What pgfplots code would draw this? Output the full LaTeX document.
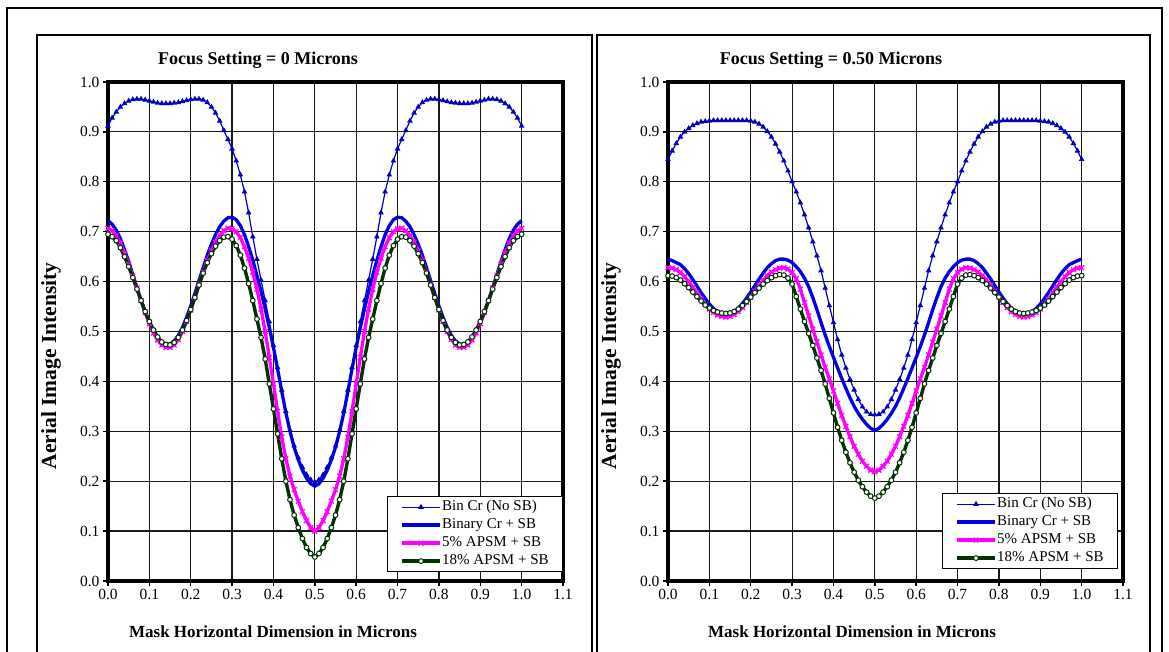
\documentclass[border=0pt]{standalone}
\usepackage{fontspec}
\setmainfont{Liberation Serif}
\usepackage{pgfplots}
\pgfplotsset{compat=1.18}
\usepackage{pgfplotstable}

\definecolor{bincr}{RGB}{0,0,190}
\definecolor{binsb}{RGB}{0,0,228}
\definecolor{apsmfive}{RGB}{255,0,255}
\definecolor{apsmeight}{RGB}{0,51,0}

% Aerial image intensity across the mask, focus = 0 microns
% columns: x, Bin Cr (no SB), Binary Cr + SB, 5% APSM + SB, 18% APSM + SB
\pgfplotstableread{
x A B M G
0.00 0.912 0.722 0.707 0.695
0.01 0.928 0.715 0.702 0.690
0.02 0.940 0.703 0.692 0.682
0.03 0.950 0.686 0.677 0.668
0.04 0.957 0.664 0.657 0.650
0.05 0.962 0.640 0.635 0.630
0.06 0.965 0.614 0.611 0.608
0.07 0.966 0.588 0.587 0.585
0.08 0.966 0.562 0.562 0.562
0.09 0.964 0.538 0.538 0.540
0.10 0.962 0.517 0.516 0.520
0.11 0.960 0.499 0.497 0.503
0.12 0.958 0.486 0.483 0.489
0.13 0.957 0.478 0.473 0.479
0.14 0.957 0.474 0.468 0.474
0.15 0.957 0.475 0.468 0.473
0.16 0.958 0.481 0.473 0.478
0.17 0.959 0.492 0.484 0.488
0.18 0.961 0.508 0.500 0.503
0.19 0.963 0.528 0.520 0.522
0.20 0.965 0.551 0.543 0.544
0.21 0.966 0.576 0.568 0.568
0.22 0.966 0.602 0.594 0.593
0.23 0.964 0.628 0.619 0.617
0.24 0.959 0.653 0.642 0.638
0.25 0.950 0.675 0.662 0.656
0.26 0.938 0.694 0.679 0.671
0.27 0.922 0.710 0.692 0.682
0.28 0.903 0.721 0.702 0.689
0.29 0.885 0.728 0.707 0.690
0.30 0.866 0.729 0.706 0.685
0.31 0.842 0.724 0.700 0.672
0.32 0.814 0.712 0.688 0.653
0.33 0.780 0.694 0.670 0.627
0.34 0.738 0.670 0.647 0.596
0.35 0.690 0.643 0.619 0.562
0.36 0.645 0.612 0.585 0.525
0.37 0.603 0.580 0.545 0.488
0.38 0.562 0.545 0.500 0.445
0.39 0.520 0.508 0.448 0.395
0.40 0.472 0.468 0.395 0.345
0.41 0.428 0.425 0.340 0.295
0.42 0.383 0.380 0.288 0.245
0.43 0.340 0.337 0.245 0.200
0.44 0.302 0.300 0.210 0.163
0.45 0.271 0.268 0.183 0.132
0.46 0.247 0.243 0.160 0.107
0.47 0.228 0.222 0.139 0.085
0.48 0.213 0.206 0.121 0.067
0.49 0.203 0.195 0.107 0.055
0.50 0.198 0.190 0.100 0.048
0.51 0.203 0.195 0.107 0.055
0.52 0.213 0.206 0.121 0.067
0.53 0.228 0.222 0.139 0.085
0.54 0.247 0.243 0.160 0.107
0.55 0.271 0.268 0.183 0.132
0.56 0.302 0.300 0.210 0.163
0.57 0.340 0.337 0.245 0.200
0.58 0.383 0.380 0.288 0.245
0.59 0.428 0.425 0.340 0.295
0.60 0.472 0.468 0.395 0.345
0.61 0.520 0.508 0.448 0.395
0.62 0.562 0.545 0.500 0.445
0.63 0.603 0.580 0.545 0.488
0.64 0.645 0.612 0.585 0.525
0.65 0.690 0.643 0.619 0.562
0.66 0.738 0.670 0.647 0.596
0.67 0.780 0.694 0.670 0.627
0.68 0.814 0.712 0.688 0.653
0.69 0.842 0.724 0.700 0.672
0.70 0.866 0.729 0.706 0.685
0.71 0.885 0.728 0.707 0.690
0.72 0.903 0.721 0.702 0.689
0.73 0.922 0.710 0.692 0.682
0.74 0.938 0.694 0.679 0.671
0.75 0.950 0.675 0.662 0.656
0.76 0.959 0.653 0.642 0.638
0.77 0.964 0.628 0.619 0.617
0.78 0.966 0.602 0.594 0.593
0.79 0.966 0.576 0.568 0.568
0.80 0.965 0.551 0.543 0.544
0.81 0.963 0.528 0.520 0.522
0.82 0.961 0.508 0.500 0.503
0.83 0.959 0.492 0.484 0.488
0.84 0.958 0.481 0.473 0.478
0.85 0.957 0.475 0.468 0.473
0.86 0.957 0.474 0.468 0.474
0.87 0.957 0.478 0.473 0.479
0.88 0.958 0.486 0.483 0.489
0.89 0.960 0.499 0.497 0.503
0.90 0.962 0.517 0.516 0.520
0.91 0.964 0.538 0.538 0.540
0.92 0.966 0.562 0.562 0.562
0.93 0.966 0.588 0.587 0.585
0.94 0.965 0.614 0.611 0.608
0.95 0.962 0.640 0.635 0.630
0.96 0.957 0.664 0.657 0.650
0.97 0.950 0.686 0.677 0.668
0.98 0.940 0.703 0.692 0.682
0.99 0.928 0.715 0.702 0.690
1.00 0.912 0.722 0.707 0.695
}\focuszero

% Same quantities at focus = 0.50 microns
\pgfplotstableread{
x A B M G
0.00 0.845 0.645 0.628 0.612
0.01 0.862 0.642 0.627 0.611
0.02 0.877 0.638 0.624 0.608
0.03 0.890 0.634 0.618 0.603
0.04 0.900 0.626 0.610 0.596
0.05 0.907 0.616 0.600 0.588
0.06 0.913 0.604 0.589 0.579
0.07 0.917 0.591 0.577 0.570
0.08 0.920 0.578 0.565 0.561
0.09 0.921 0.566 0.554 0.553
0.10 0.922 0.555 0.545 0.547
0.11 0.923 0.546 0.538 0.542
0.12 0.923 0.540 0.533 0.539
0.13 0.923 0.536 0.530 0.537
0.14 0.923 0.535 0.529 0.536
0.15 0.923 0.536 0.530 0.537
0.16 0.923 0.540 0.534 0.540
0.17 0.923 0.547 0.540 0.545
0.18 0.923 0.556 0.548 0.552
0.19 0.923 0.567 0.558 0.560
0.20 0.922 0.579 0.569 0.569
0.21 0.920 0.592 0.581 0.578
0.22 0.916 0.605 0.592 0.587
0.23 0.910 0.617 0.603 0.595
0.24 0.901 0.628 0.612 0.602
0.25 0.890 0.636 0.619 0.608
0.26 0.876 0.642 0.624 0.612
0.27 0.860 0.645 0.627 0.614
0.28 0.842 0.645 0.628 0.613
0.29 0.822 0.643 0.625 0.607
0.30 0.800 0.638 0.618 0.595
0.31 0.780 0.630 0.606 0.570
0.32 0.758 0.620 0.585 0.545
0.33 0.734 0.607 0.558 0.520
0.34 0.708 0.590 0.531 0.496
0.35 0.680 0.568 0.505 0.472
0.36 0.652 0.544 0.479 0.447
0.37 0.622 0.518 0.453 0.422
0.38 0.587 0.493 0.428 0.395
0.39 0.552 0.470 0.405 0.366
0.40 0.518 0.448 0.381 0.337
0.41 0.484 0.427 0.356 0.308
0.42 0.453 0.406 0.332 0.282
0.43 0.427 0.386 0.310 0.258
0.44 0.404 0.367 0.289 0.237
0.45 0.383 0.350 0.270 0.218
0.46 0.364 0.336 0.254 0.202
0.47 0.349 0.324 0.240 0.189
0.48 0.339 0.314 0.230 0.178
0.49 0.334 0.306 0.222 0.170
0.50 0.333 0.302 0.219 0.166
0.51 0.334 0.306 0.222 0.170
0.52 0.339 0.314 0.230 0.178
0.53 0.349 0.324 0.240 0.189
0.54 0.364 0.336 0.254 0.202
0.55 0.383 0.350 0.270 0.218
0.56 0.404 0.367 0.289 0.237
0.57 0.427 0.386 0.310 0.258
0.58 0.453 0.406 0.332 0.282
0.59 0.484 0.427 0.356 0.308
0.60 0.518 0.448 0.381 0.337
0.61 0.552 0.470 0.405 0.366
0.62 0.587 0.493 0.428 0.395
0.63 0.622 0.518 0.453 0.422
0.64 0.652 0.544 0.479 0.447
0.65 0.680 0.568 0.505 0.472
0.66 0.708 0.590 0.531 0.496
0.67 0.734 0.607 0.558 0.520
0.68 0.758 0.620 0.585 0.545
0.69 0.780 0.630 0.606 0.570
0.70 0.800 0.638 0.618 0.595
0.71 0.822 0.643 0.625 0.607
0.72 0.842 0.645 0.628 0.613
0.73 0.860 0.645 0.627 0.614
0.74 0.876 0.642 0.624 0.612
0.75 0.890 0.636 0.619 0.608
0.76 0.901 0.628 0.612 0.602
0.77 0.910 0.617 0.603 0.595
0.78 0.916 0.605 0.592 0.587
0.79 0.920 0.592 0.581 0.578
0.80 0.922 0.579 0.569 0.569
0.81 0.923 0.567 0.558 0.560
0.82 0.923 0.556 0.548 0.552
0.83 0.923 0.547 0.540 0.545
0.84 0.923 0.540 0.534 0.540
0.85 0.923 0.536 0.530 0.537
0.86 0.923 0.535 0.529 0.536
0.87 0.923 0.536 0.530 0.537
0.88 0.923 0.540 0.533 0.539
0.89 0.923 0.546 0.538 0.542
0.90 0.922 0.555 0.545 0.547
0.91 0.921 0.566 0.554 0.553
0.92 0.920 0.578 0.565 0.561
0.93 0.917 0.591 0.577 0.570
0.94 0.913 0.604 0.589 0.579
0.95 0.907 0.616 0.600 0.588
0.96 0.900 0.626 0.610 0.596
0.97 0.890 0.634 0.618 0.603
0.98 0.877 0.638 0.624 0.608
0.99 0.862 0.642 0.627 0.611
1.00 0.845 0.645 0.628 0.612
}\focushalf

\pgfplotsset{
  aerial/.style={
    scale only axis, width=455pt, height=499pt,
    xmin=0, xmax=1.1, ymin=0, ymax=1,
    xtick={0,0.1,0.2,0.3,0.4,0.5,0.6,0.7,0.8,0.9,1.0,1.1},
    ytick={0,0.1,0.2,0.3,0.4,0.5,0.6,0.7,0.8,0.9,1.0},
    grid=major, grid style={black!90, line width=1.2pt},
    axis line style={black, line width=3.2pt},
    tick align=outside, tick pos=left, major tick length=5pt,
    every tick/.style={black, line width=1.4pt},
    ticklabel style={font=\fontsize{15.5}{18}\selectfont},
    /pgf/number format/assume math mode=true,
    xticklabel style={/pgf/number format/fixed, /pgf/number format/fixed zerofill, /pgf/number format/precision=1},
    yticklabel style={/pgf/number format/fixed, /pgf/number format/fixed zerofill, /pgf/number format/precision=1},
    legend cell align=left,
    legend style={draw=black, line width=0.8pt, fill=white,
      font=\fontsize{15}{18}\selectfont,
      inner xsep=13pt, inner ysep=1.5pt,
      nodes={inner xsep=0.5pt, inner ysep=2pt, text height=10.5pt, text depth=3.5pt}},
    legend image code/.code={\draw[mark repeat=2,mark phase=2,##1] plot coordinates {(0pt,0pt) (19pt,0pt) (38pt,0pt)};},
  },
  nosb/.style={bincr, line width=1.2pt, mark=triangle*, mark size=2.1pt, mark options={solid, fill=bincr}},
  withsb/.style={binsb, line width=3.3pt, no marks},
  five/.style={apsmfive, line width=3.3pt, mark=x, mark size=3.4pt, mark options={solid, line width=1.3pt}},
  eighteen/.style={apsmeight, line width=3.4pt, mark=*, mark size=2.4pt, mark options={solid, fill=white, draw=apsmeight, line width=1pt}},
}

\begin{document}
\begin{tikzpicture}[x=1pt, y=1pt]
\useasboundingbox (0,0) rectangle (1169,652);
% outer frame and the two chart areas
\draw[black, line width=2pt] (7,-5) -- (7,644) -- (1162,644) -- (1162,-5);
\draw[black, line width=1.1pt] (37,-5) -- (37,617) -- (592,617) -- (592,-5);
\draw[black, line width=1.1pt] (597,-5) -- (597,617) -- (1150,617) -- (1150,-5);

\begin{axis}[aerial, at={(108pt,71pt)}, anchor=south west,
  legend style={at={(0.613,0.018)}, anchor=south west}]
\addplot[nosb] table[x=x, y=A] {\focuszero};
\addlegendentry{Bin Cr (No SB)}
\addplot[withsb] table[x=x, y=B] {\focuszero};
\addlegendentry{Binary Cr + SB}
\addplot[five] table[x=x, y=M] {\focuszero};
\addlegendentry{5\% APSM + SB}
\addplot[eighteen] table[x=x, y=G] {\focuszero};
\addlegendentry{18\% APSM + SB}
\end{axis}

\begin{axis}[aerial, at={(668pt,71pt)}, anchor=south west,
  legend style={at={(0.602,0.024)}, anchor=south west}]
\addplot[nosb] table[x=x, y=A] {\focushalf};
\addlegendentry{Bin Cr (No SB)}
\addplot[withsb] table[x=x, y=B] {\focushalf};
\addlegendentry{Binary Cr + SB}
\addplot[five] table[x=x, y=M] {\focushalf};
\addlegendentry{5\% APSM + SB}
\addplot[eighteen] table[x=x, y=G] {\focushalf};
\addlegendentry{18\% APSM + SB\hspace{17pt}}
\end{axis}

% chart and axis titles
\node[font=\bfseries\fontsize{18}{21}\selectfont] at (258,592) {Focus Setting = 0 Microns};
\node[font=\bfseries\fontsize{18}{21}\selectfont] at (831,592) {Focus Setting = 0.50 Microns};
\node[font=\bfseries\fontsize{17}{20}\selectfont] at (273,20) {Mask Horizontal Dimension in Microns};
\node[font=\bfseries\fontsize{17}{20}\selectfont] at (852,20) {Mask Horizontal Dimension in Microns};
\node[font=\bfseries\fontsize{21.5}{25}\selectfont, rotate=90] at (51,286) {Aerial Image Intensity};
\node[font=\bfseries\fontsize{21.5}{25}\selectfont, rotate=90] at (611,286) {Aerial Image Intensity};
\end{tikzpicture}
\end{document}
